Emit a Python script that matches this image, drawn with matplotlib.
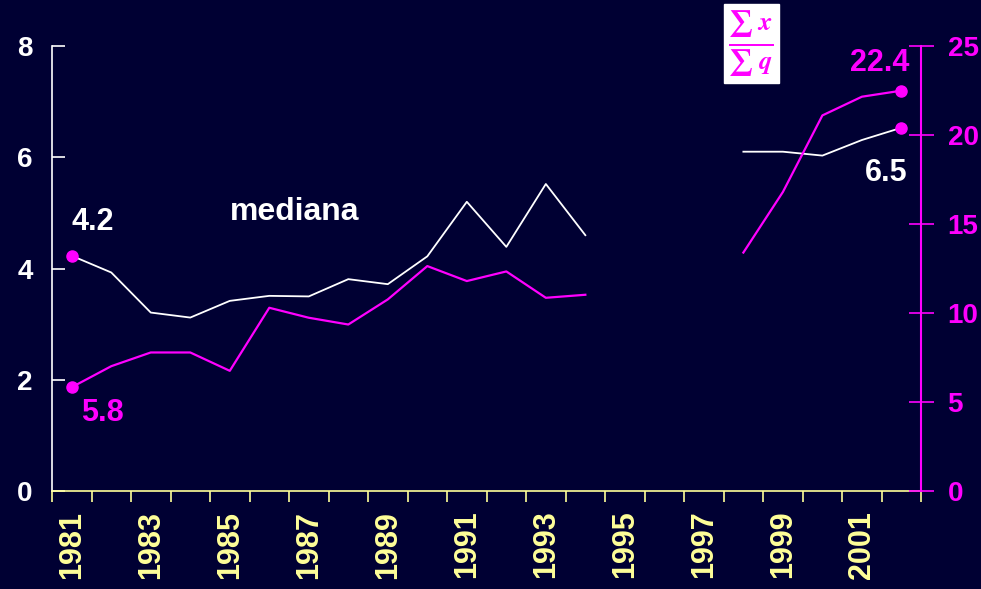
import numpy as np
import matplotlib.pyplot as plt

plt.rcParams['font.family'] = ['Liberation Sans', 'DejaVu Sans']
plt.rcParams['font.weight'] = 'bold'
plt.rcParams['mathtext.fontset'] = 'stix'

years = list(range(1981, 2003))
mediana = [4.23, 3.93, 3.21, 3.12, 3.42, 3.51, 3.5, 3.81, 3.72, 4.22, 5.2, 4.39, 5.52, 4.6,
           np.nan, np.nan, np.nan, 6.1, 6.1, 6.03, 6.31, 6.53]
razao = [5.84, 7.02, 7.79, 7.79, 6.76, 10.3, 9.74, 9.36, 10.77, 12.64, 11.8, 12.34, 10.86, 11.03,
         np.nan, np.nan, np.nan, 13.4, 16.8, 21.1, 22.15, 22.49]
tick_years = years[::2]

bg = '#000033'
yellow = '#FFFF99'
magenta = '#FF00FF'

fig = plt.figure(figsize=(9.81, 5.89), dpi=100, facecolor=bg)
ax = fig.add_axes([0.053, 0.166, 0.886, 0.756], facecolor=bg)
ax2 = ax.twinx()

x = np.arange(len(years))
ax.plot(x, mediana, color='white', lw=1.3)
ax2.plot(x, razao, color=magenta, lw=1.6)
ax.plot([x[0], x[-1]], [mediana[0], mediana[-1]], 'o', color=magenta, ms=8, ls='none')
ax2.plot([x[0], x[-1]], [razao[0], razao[-1]], 'o', color=magenta, ms=8, ls='none')

ax.set_xlim(-0.5, len(years) - 0.5)
ax.set_ylim(0, 8)
ax2.set_ylim(0, 25)
ax.set_yticks([0, 2, 4, 6, 8])
ax2.set_yticks([0, 5, 10, 15, 20, 25])

# marcas entre categorias, rótulos nos anos
ax.set_xticks(np.arange(-0.5, len(years)), labels=[])
ax.set_xticks([years.index(y) for y in tick_years], labels=[str(y) for y in tick_years], minor=True)
ax.tick_params(axis='x', which='major', direction='out', length=8, width=1.2, color=yellow)
ax.tick_params(axis='x', which='minor', length=0, pad=14, labelsize=22, labelcolor=yellow, labelrotation=90)

ax.tick_params(axis='y', direction='in', length=9, width=1.2, color='white', labelcolor='white',
               labelsize=20, pad=14)
ax2.tick_params(axis='y', direction='inout', length=18, width=1.2, color=magenta, labelcolor=magenta,
                labelsize=20, pad=10)

for a in (ax, ax2):
    a.spines['top'].set_visible(False)
ax.spines['left'].set_color('white')
ax.spines['left'].set_linewidth(1.2)
ax.spines['bottom'].set_color(yellow)
ax.spines['bottom'].set_linewidth(1.2)
ax.spines['right'].set_visible(False)
ax2.spines['left'].set_visible(False)
ax2.spines['bottom'].set_visible(False)
ax2.spines['right'].set_color(magenta)
ax2.spines['right'].set_linewidth(1.5)

ax.text(0.54, 4.84, '4.2', color='white', fontsize=22, ha='center', va='center')
ax2.text(0.77, 4.38, '5.8', color=magenta, fontsize=22, ha='center', va='center')
ax.text(5.65, 5.02, 'mediana', color='white', fontsize=23, ha='center', va='center')
ax.text(20.61, 5.72, '6.5', color='white', fontsize=22, ha='center', va='center')
ax2.text(20.46, 24.04, '22.4', color=magenta, fontsize=22, ha='center', va='center')

fig.text(0.766, 0.926, r'$\frac{\sum\ x}{\sum\ q}$', color=magenta, fontsize=27,
         fontweight='normal', ha='center', va='center',
         bbox=dict(boxstyle='square,pad=0.12', facecolor='white', edgecolor='white'))

fig.savefig('out.png', dpi=100, facecolor=bg)
